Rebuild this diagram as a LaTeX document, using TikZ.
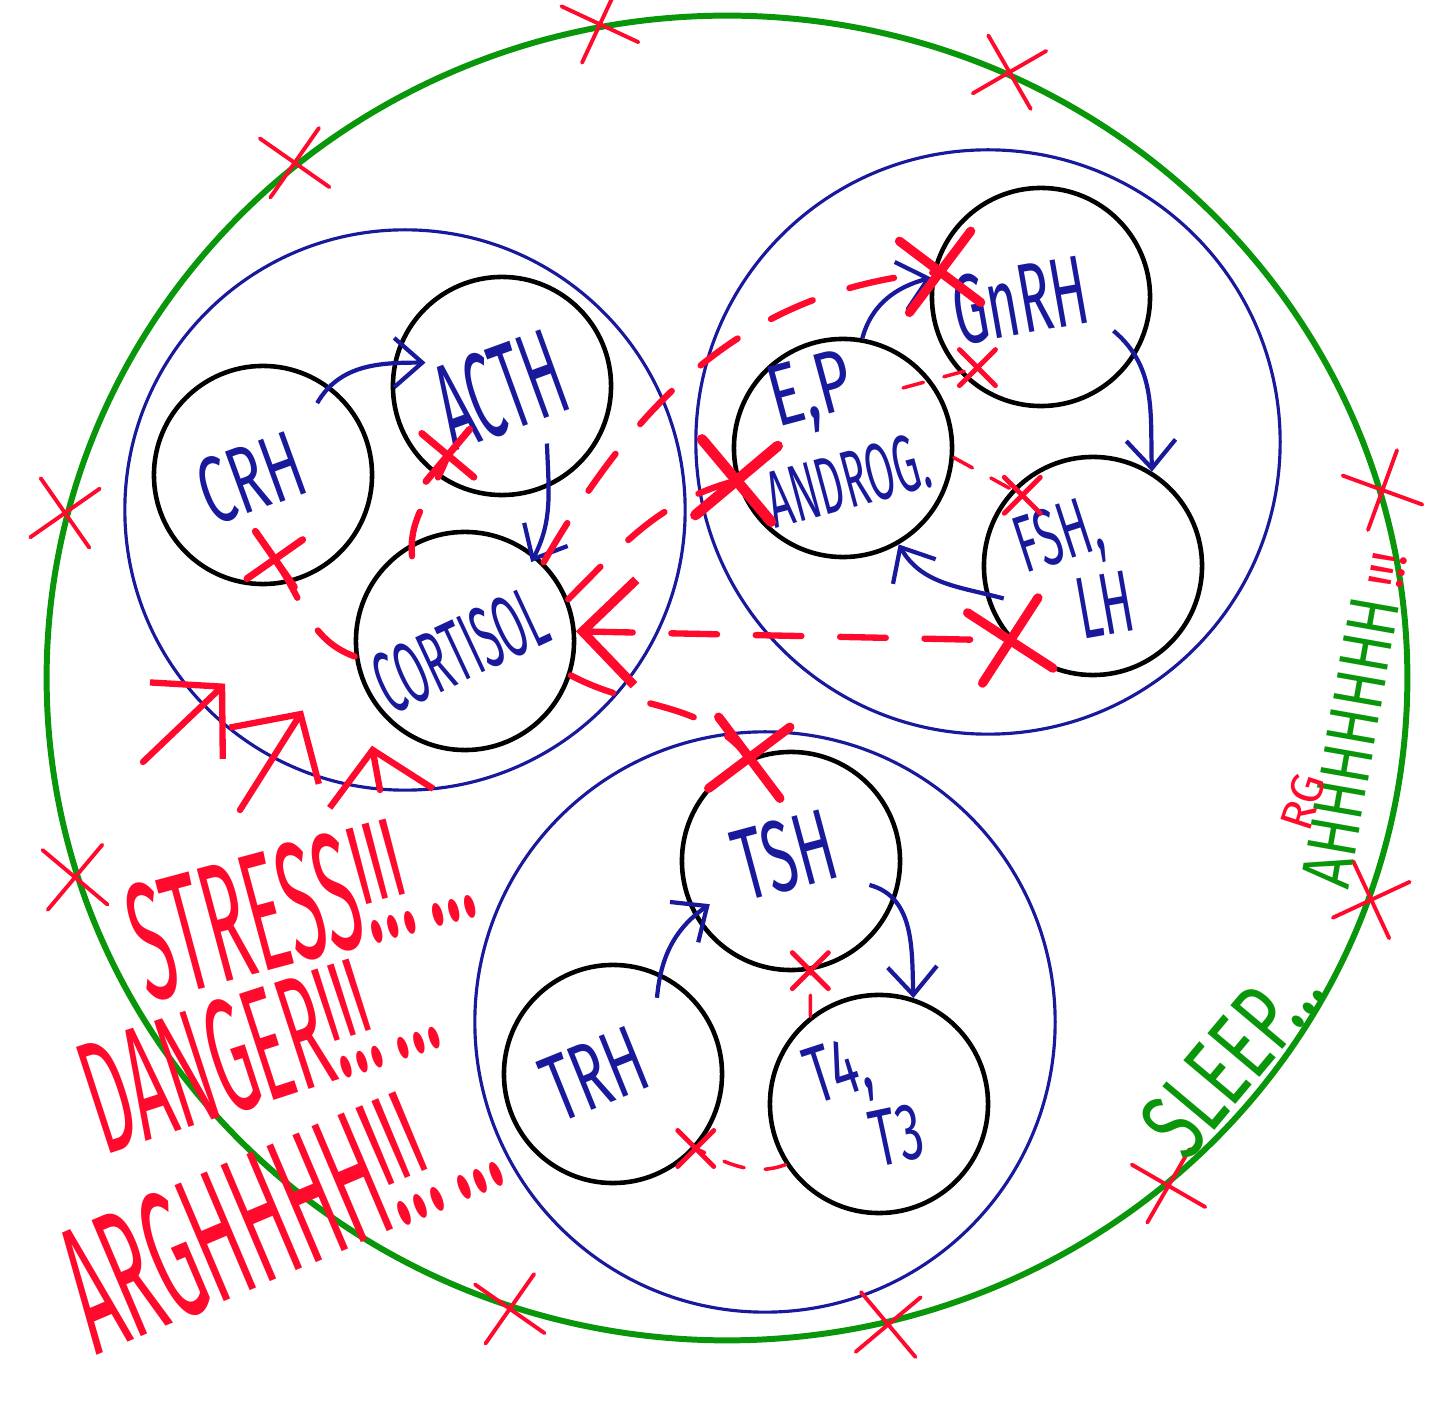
\documentclass[tikz,border=0pt]{standalone}
\usepackage{fontspec}
\setmainfont{Fira Sans}
\usetikzlibrary{shapes.geometric,arrows.meta,calc}

\definecolor{sketchred}{RGB}{255,10,45}
\definecolor{sketchblue}{RGB}{25,25,155}
\definecolor{sketchgreen}{RGB}{10,150,10}
\newcommand{\squash}[2]{\scalebox{#1}[1]{#2}}
\newcommand{\fsz}[1]{\fontsize{#1}{#1}\selectfont}

\begin{document}
\begin{tikzpicture}[x=0.01cm,y=0.01cm,
                    hormone node/.style={circle,draw,line width=1.3pt,minimum size=2.18cm,inner sep=0pt},
                    axis node/.style={circle,draw=sketchblue,line width=0.9pt,inner sep=0pt},
                    tag/.style={text=sketchblue,inner sep=0pt},
                    shout/.style={text=sketchred,inner sep=0pt},
                    signal/.style={draw=sketchblue,line width=1.2pt,-{Straight Barb[length=8pt,width=14pt]}},
                    feedback/.style={draw=sketchred,line width=1.8pt,line cap=round,dash pattern=on 13pt off 11pt},
                    weak feedback/.style={draw=sketchred,line width=1pt,line cap=round,dash pattern=on 6pt off 6pt},
                    alarm/.style={draw=sketchred,line width=1.8pt,line cap=round,-{Straight Barb[length=14pt,width=30pt]}},
                    nogo/.pic={\draw[line cap=round] (-1,-1) -- (1,1) (-1,1) -- (1,-1);}]

  \useasboundingbox (0,0) rectangle (1456,1402);

  % body
  \node[ellipse,draw=sketchgreen,line width=1.7pt,minimum width=13.6cm,minimum height=13.24cm,inner sep=0pt] (outer) at (727,724) {};

  % axes
  \node[axis node,minimum size=5.6cm] (hpa) at (405,892) {};
  \node[axis node,minimum size=5.84cm] (hpg) at (988,960) {};
  \node[axis node,minimum size=5.8cm] (hpt) at (765,380) {};

  % glands
  \node[hormone node] (crh) at (263,927) {};
  \node[hormone node] (acth) at (502,1016) {};
  \node[hormone node] (cortisol) at (465,761) {};
  \node[hormone node] (gnrh) at (1041,1105) {};
  \node[hormone node] (ep) at (843,954) {};
  \node[hormone node] (fshlh) at (1093,836) {};
  \node[hormone node] (tsh) at (791,541) {};
  \node[hormone node] (trh) at (613,328) {};
  \node[hormone node] (tfour) at (879,298) {};

  \node[tag,rotate=20,font=\fsz{27}] (crh-t) at ($(crh)+(-12,-3)$) {\squash{0.6}{CRH}};
  \node[tag,rotate=20,font=\fsz{35}] (acth-t) at ($(acth)+(-2,-4)$) {\squash{0.45}{ACTH}};
  \node[tag,rotate=25,font=\fsz{25}] (cort-t) at ($(cortisol)+(-5,-9)$) {\squash{0.47}{CORTISOL}};
  \node[tag,rotate=10,font=\fsz{28}] (gnrh-t) at ($(gnrh)+(-21,-3)$) {\squash{0.55}{GnRH}};
  \node[tag,rotate=15,font=\fsz{25}] (ep-t) at (812,1007) {\squash{0.7}{E,P}};
  \node[tag,rotate=15,font=\fsz{23}] (androg-t) at (848,922) {\squash{0.5}{ANDROG.}};
  \node[tag,rotate=18,font=\fsz{23}] (fsh-t) at (1060,862) {\squash{0.55}{FSH,}};
  \node[tag,rotate=10,font=\fsz{25}] (lh-t) at (1105,797) {\squash{0.55}{LH}};
  \node[tag,rotate=15,font=\fsz{29}] (tsh-t) at ($(tsh)+(-6,6)$) {\squash{0.57}{TSH}};
  \node[tag,rotate=22,font=\fsz{27}] (trh-t) at ($(trh)+(-18,0)$) {\squash{0.6}{TRH}};
  \node[tag,rotate=18,font=\fsz{23}] (t4-t) at (840,327) {\squash{0.62}{T4,}};
  \node[tag,rotate=12,font=\fsz{23}] (t3-t) at (897,267) {\squash{0.62}{T3}};

  % stimulation
  \path ($(crh)+(53:90)$) edge[signal,out=60,in=180] ($(acth)+(163:80)$)
        ($(acth)+(-52:73)$) edge[signal,out=-88,in=62] ($(cortisol)+(50:103)$)
        (ep.80) edge[signal,out=75,in=195] (gnrh.170)
        ($(gnrh)+(-25:80)$) edge[signal,out=-40,in=92] (fshlh.58)
        ($(fshlh)+(200:95)$) edge[signal,out=165,in=-60] (ep.-60)
        ($(trh)+(60:88)$) edge[signal,out=85,in=215] ($(tsh)+(208:92)$)
        ($(tsh)+(-17:82)$) edge[signal,out=-15,in=92] (tfour.72);

  % negative feedback
  \path (cortisol.188) edge[feedback,out=160,in=-55] ($(crh)+(-82:85)$)
        ($(cortisol)+(122:100)$) edge[feedback,out=95,in=-110] ($(acth)+(232:88)$)
        (cortisol.45) edge[feedback,out=60,in=185] ($(gnrh)+(166:104)$)
        (cortisol.22) edge[feedback,out=45,in=195] (ep.197)
        (cortisol.5) edge[feedback,{Straight Barb[length=15pt,width=30pt,line width=2.6pt]}-] (fshlh.222)
        (cortisol.-18) edge[feedback,out=-28,in=130] (tsh.112)
        ($(ep)+(45:85)$) edge[weak feedback] ($(gnrh)+(228:95)$)
        (ep.-5) edge[weak feedback] ($(fshlh)+(135:100)$)
        (tfour.128) edge[weak feedback] (tsh.-80)
        (tfour.213) edge[weak feedback,out=200,in=-25] (trh.-42);

  \pic[sketchred,line width=2.6pt,scale=36,rotate=8] at ($(gnrh)+(166:104)$) {nogo};
  \pic[sketchred,line width=3pt,scale=38,rotate=-5] at (ep.197) {nogo};
  \pic[sketchred,line width=2.6pt,scale=36,rotate=12] at (fshlh.222) {nogo};
  \pic[sketchred,line width=2.6pt,scale=36,rotate=-8] at (tsh.112) {nogo};
  \pic[sketchred,line width=2pt,scale=24,rotate=5] at ($(acth)+(232:88)$) {nogo};
  \pic[sketchred,line width=2pt,scale=24,rotate=-10] at ($(crh)+(-82:85)$) {nogo};
  \pic[sketchred,line width=1.4pt,scale=18] at ($(gnrh)+(228:95)$) {nogo};
  \pic[sketchred,line width=1.4pt,scale=18] at ($(fshlh)+(135:100)$) {nogo};
  \pic[sketchred,line width=1.4pt,scale=18] at (tsh.-80) {nogo};
  \pic[sketchred,line width=1.4pt,scale=18] at (trh.-42) {nogo};

  % crossings on the body
  \foreach \a/\r in {101/20,65/-15,130/10,166/-10,16/25,197/5,341/-20,311/15,284/-5,251/10}
    \pic[sketchred,line width=1.1pt,scale=30,rotate=\r] at (outer.\a) {nogo};

  % stress
  \coordinate (s1) at (143,640);
  \coordinate (s2) at (240,592);
  \coordinate (s3) at (380,612);
  \draw[alarm] (s1) -- ($(hpa)+(224:250)$);
  \draw[alarm] (s2) -- ($(hpa)+(243:225)$);
  \draw[alarm] (s3) -- ($(hpa)+(262:238)$);

  \node[shout,rotate=15,font=\fsz{48}] (stress) at (300,500) {\squash{0.42}{STRESS!!!\,...}};
  \node[shout,rotate=18,font=\fsz{46}] (danger) at (258,355) {\squash{0.42}{DANGER!!!\,...}};
  \node[shout,rotate=23,font=\fsz{52}] (argh) at (278,192) {\squash{0.4}{ARGHHHH!!!\,...}};

  % sleep
  \node[text=sketchgreen,inner sep=0pt,rotate=50,font=\fsz{28}] (sleep) at (1232,345) {\squash{0.68}{SLEEP...}};
  \node[text=sketchgreen,inner sep=0pt,rotate=80,font=\fsz{20},anchor=west] (ahh) at (1325,515) {\squash{0.78}{AHHHHHHH}\,{\color{sketchred}\fsz{14}!!!}};
  \node[shout,rotate=72,font=\fsz{13}] (rg) at (1303,600) {RG};
\end{tikzpicture}
\end{document}
